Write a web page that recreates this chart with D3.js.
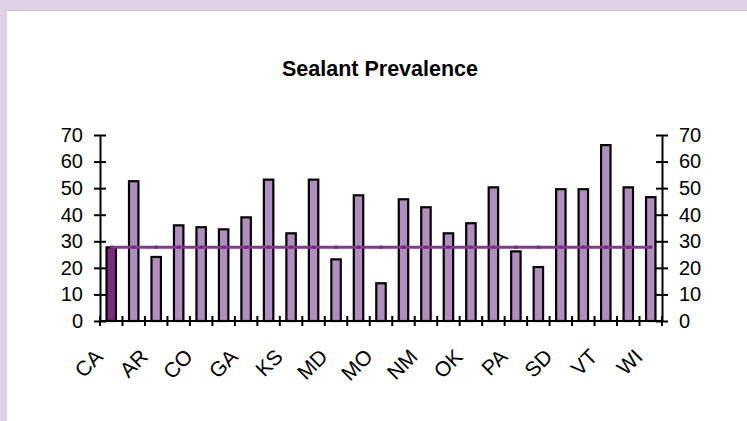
<!DOCTYPE html>
<html>
<head>
<meta charset="utf-8">
<script src="https://cdn.jsdelivr.net/npm/d3@7"></script>
<style>
  html, body { margin: 0; padding: 0; background: #fff; }
  svg { display: block; }
  text { font-family: "Liberation Sans", Arial, sans-serif; }
</style>
</head>
<body>
<svg id="chart" width="747" height="421"></svg>
<script>
// categories (every other one is labelled on the axis)
var states = ['CA','AK','AR','AZ','CO','CT','GA','IA','KS','MA','MD','ME','MO',
              'NE','NM','NY','OK','OR','PA','RI','SD','TX','VT','WA','WI'];
var prevalence = [27.7, 52.6, 24.1, 36.0, 35.3, 34.5, 39.0, 53.2, 33.0, 53.2, 23.2, 47.3, 14.2,
                  45.8, 42.8, 33.0, 36.8, 50.3, 26.2, 20.3, 49.6, 49.6, 66.2, 50.3, 46.6];
var reference = 27.8;
var yTicks = [0, 10, 20, 30, 40, 50, 60, 70];

(function () {
	var svg = d3.select('#chart'),
		W = 747, H = 421,
		pl = 100, pr = 662, pt = 135, pb = 321;

	// page frame
	svg.append('rect').attr('width', W).attr('height', H).attr('fill', '#dfd0e3');
	svg.append('rect').attr('x', 7).attr('y', 11).attr('width', W - 7).attr('height', H - 11).attr('fill', '#fff');
	svg.append('line').attr('x1', 7).attr('x2', W).attr('y1', 10.5).attr('y2', 10.5)
		.attr('stroke', '#cdb7d2').attr('stroke-width', 1);

	svg.append('text')
		.attr('x', 380).attr('y', 76)
		.attr('text-anchor', 'middle')
		.attr('font-size', 21.5).attr('font-weight', 'bold')
		.text('Sealant Prevalence');

	var x = d3.scaleBand().domain(states).range([pl, pr]).padding(0),
		y = d3.scaleLinear().domain([0, 70]).range([pb, pt]),
		bw = x.bandwidth() * 0.42;

	// bars
	svg.append('g').selectAll('rect')
		.data(prevalence)
		.enter().append('rect')
		.attr('x', function (d, i) { return x(states[i]) + x.bandwidth() / 2 - bw / 2; })
		.attr('y', function (d) { return y(d); })
		.attr('width', bw)
		.attr('height', function (d) { return y(0) - y(d); })
		.attr('fill', function (d, i) { return i === 0 ? '#7a2a7f' : '#b28ec0'; })
		.attr('stroke', '#000')
		.attr('stroke-width', 2.2);

	// reference line
	var line = d3.line()
		.x(function (d) { return x(d) + x.bandwidth() / 2; })
		.y(function () { return y(reference); });

	svg.append('path')
		.datum(states)
		.attr('d', line)
		.attr('fill', 'none')
		.attr('stroke', '#86378f')
		.attr('stroke-width', 3);

	svg.append('g').selectAll('rect')
		.data(states)
		.enter().append('rect')
		.attr('x', function (d) { return x(d) + x.bandwidth() / 2 - 1.5; })
		.attr('y', y(reference) - 1.5)
		.attr('width', 3).attr('height', 3)
		.attr('fill', '#74267d');

	// axes
	function styleAxis(g) {
		g.selectAll('path.domain').attr('stroke', '#000').attr('stroke-width', 2);
		g.selectAll('.tick line').attr('stroke', '#000').attr('stroke-width', 2);
		g.selectAll('text').attr('font-size', 20).attr('fill', '#000')
			.style('font-family', '"Liberation Sans", Arial, sans-serif');
	}

	var yl = svg.append('g')
		.attr('transform', 'translate(' + pl + ',0)')
		.call(d3.axisLeft(y).tickValues(yTicks).tickSize(6).tickSizeOuter(0).tickPadding(11));
	yl.selectAll('.tick line').attr('x2', 6).attr('x1', -6);
	styleAxis(yl);

	var yr = svg.append('g')
		.attr('transform', 'translate(' + pr + ',0)')
		.call(d3.axisRight(y).tickValues(yTicks).tickSize(6).tickSizeOuter(0).tickPadding(11));
	yr.selectAll('.tick line').attr('x1', -6).attr('x2', 6);
	styleAxis(yr);

	// x axis: ticks at category boundaries
	var xg = svg.append('g').attr('transform', 'translate(0,' + pb + ')');
	xg.append('line').attr('x1', pl).attr('x2', pr).attr('stroke', '#000').attr('stroke-width', 2);
	xg.selectAll('line.tk')
		.data(d3.range(states.length + 1))
		.enter().append('line')
		.attr('class', 'tk')
		.attr('x1', function (i) { return pl + i * x.step(); })
		.attr('x2', function (i) { return pl + i * x.step(); })
		.attr('y1', -5).attr('y2', 5)
		.attr('stroke', '#000').attr('stroke-width', 2);

	xg.selectAll('text')
		.data(states.filter(function (d, i) { return i % 2 === 0; }))
		.enter().append('text')
		.attr('transform', function (d) {
			return 'translate(' + (x(d) + x.bandwidth() / 2 - 7) + ',37) rotate(-45)';
		})
		.attr('text-anchor', 'end')
		.attr('font-size', 21)
		.text(function (d) { return d; });
})();
</script>
</body>
</html>
